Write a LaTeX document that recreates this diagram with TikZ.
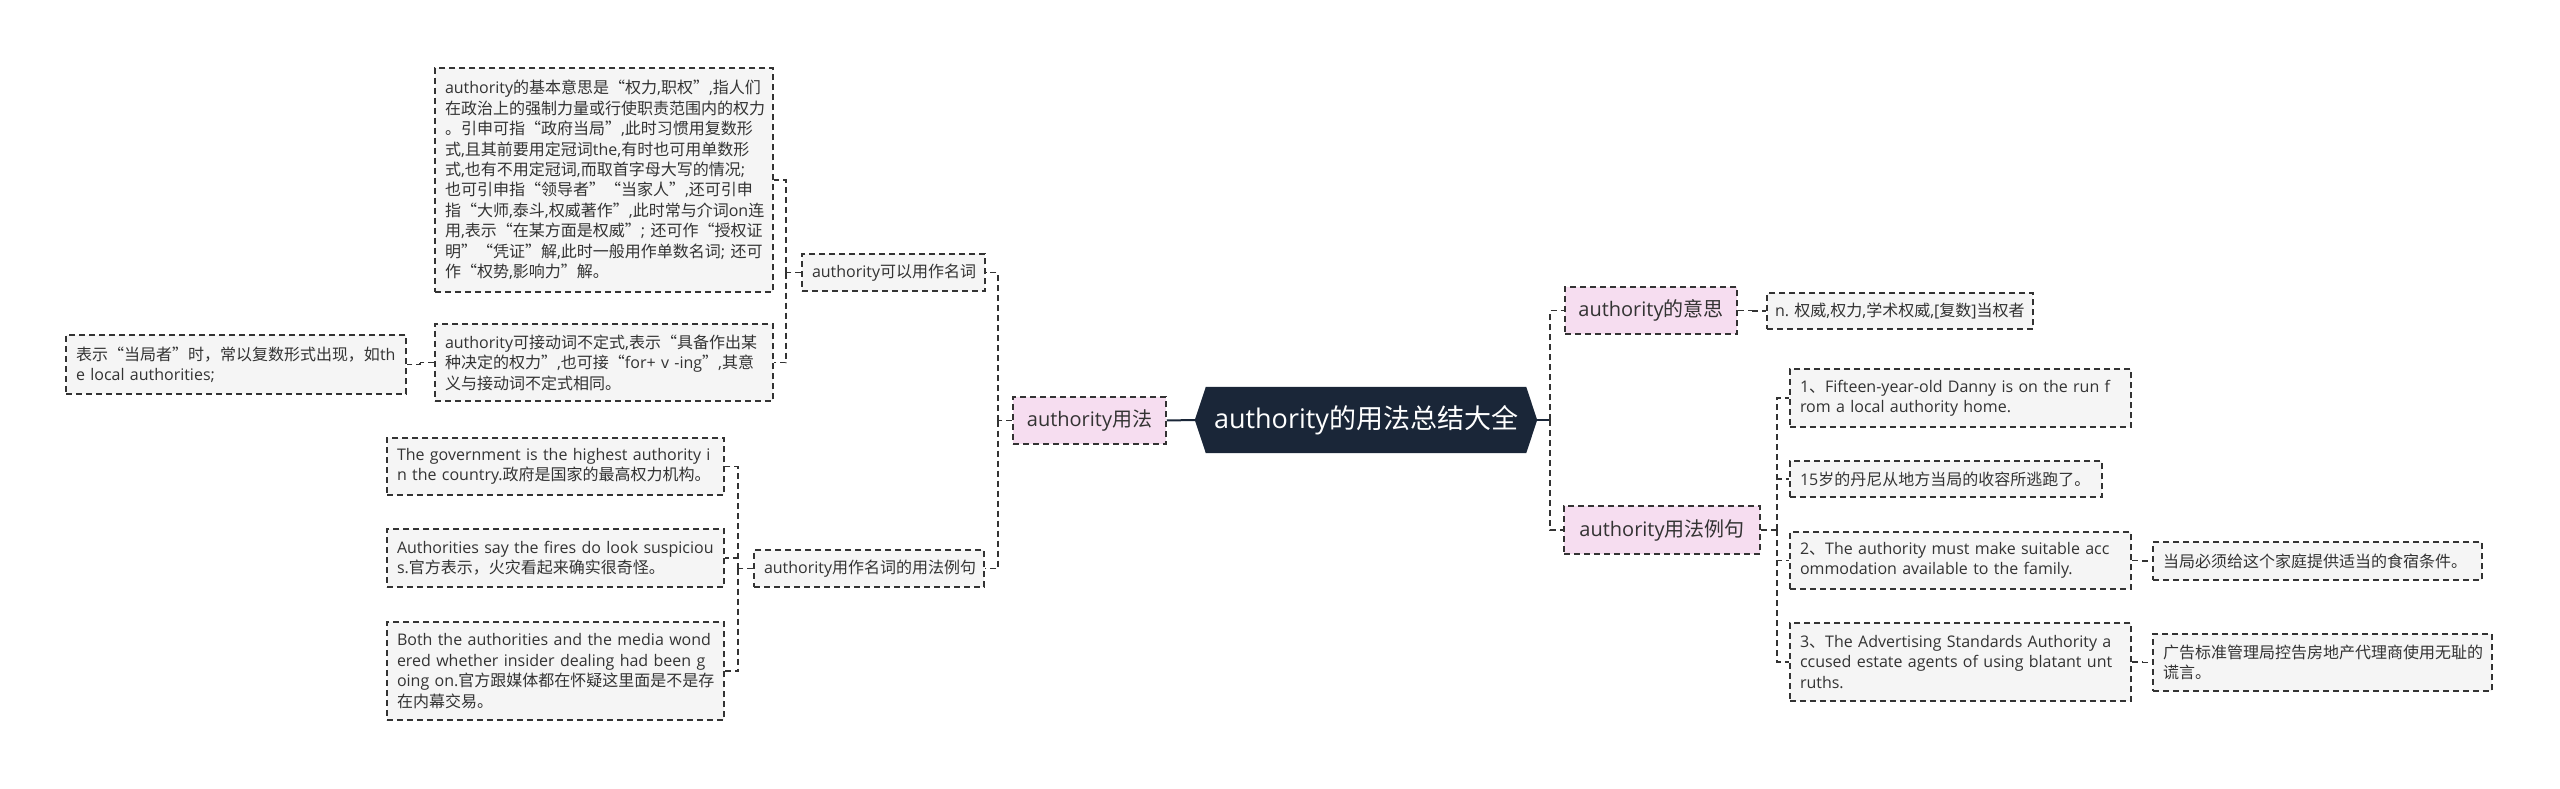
\documentclass[tikz,border=0pt]{standalone}
\usepackage{fontspec}
\setmainfont{Open Sans}
\newfontfamily\cjkf{Noto Sans CJK SC}
\XeTeXinterchartokenstate=1
\newXeTeXintercharclass\cjkcls
\newcount\mycnt
\mycnt="3000 \loop\ifnum\mycnt<"3040 \XeTeXcharclass\mycnt=\cjkcls \advance\mycnt by 1 \repeat
\mycnt="4E00 \loop\ifnum\mycnt<"A000 \XeTeXcharclass\mycnt=\cjkcls \advance\mycnt by 1 \repeat
\mycnt="FF00 \loop\ifnum\mycnt<"FFF0 \XeTeXcharclass\mycnt=\cjkcls \advance\mycnt by 1 \repeat
\XeTeXcharclass"201C=\cjkcls
\XeTeXcharclass"201D=\cjkcls
\XeTeXinterchartoks 0 \cjkcls = {\cjkf}
\XeTeXinterchartoks 4095 \cjkcls = {\cjkf}
\XeTeXinterchartoks \cjkcls 0 = {\rmfamily}
\XeTeXinterchartoks \cjkcls 4095 = {\rmfamily}
\usetikzlibrary{backgrounds}
\definecolor{linec}{HTML}{333333}
\definecolor{textc}{HTML}{333333}
\definecolor{grayf}{HTML}{F5F5F5}
\definecolor{pinkf}{HTML}{F6DDF0}
\definecolor{navy}{HTML}{1A2638}
\begin{document}
\begin{tikzpicture}[x=1pt,y=-1pt,
  conn/.style={draw=linec, line width=1.6pt, dash pattern=on 6pt off 4pt},
  solidconn/.style={draw=navy, line width=2pt},
  gbox/.style={draw=linec, line width=1.5pt, dash pattern=on 6pt off 4pt, fill=grayf, text=textc,
    inner xsep=10pt, inner ysep=0pt, align=left, font=\fontsize{16}{20.4}\selectfont},
  pbox/.style={draw=linec, line width=1.5pt, dash pattern=on 6pt off 4pt, fill=pinkf, text=textc,
    inner xsep=6pt, inner ysep=0pt, align=center, font=\fontsize{20}{24}\selectfont},
]
\useasboundingbox (0,0) rectangle (2560,789);

% central
\node[text=white, inner sep=0pt, minimum width=320pt, minimum height=66pt, font=\fontsize{27}{32}\selectfont] (C) at (1366,420) {authority的用法总结大全};
\begin{scope}[on background layer]
\fill[navy] ([xshift=-11pt]C.west) -- (C.north west) -- (C.north east) -- ([xshift=11pt]C.east) -- (C.south east) -- (C.south west) -- cycle;
\end{scope}

% left side
\node[pbox, minimum width=153pt, minimum height=47pt] (U) at (1089.5,420.5) {authority用法};
\node[gbox, minimum width=183pt, text width=163pt, minimum height=37pt] (P1) at (893.5,272.5) {authority可以用作名词};
\node[gbox, minimum width=230pt, text width=210pt, minimum height=37pt] (P2) at (869,568.5) {authority用作名词的用法例句};
\node[gbox, minimum width=338pt, text width=318pt, minimum height=224pt] (B1) at (604,180) {authority的基本意思是“权力,职权”,指人们\\在政治上的强制力量或行使职责范围内的权力\\。引申可指“政府当局”,此时习惯用复数形\\式,且其前要用定冠词the,有时也可用单数形\\式,也有不用定冠词,而取首字母大写的情况;\\也可引申指“领导者”“当家人”,还可引申\\指“大师,泰斗,权威著作”,此时常与介词on连\\用,表示“在某方面是权威”; 还可作“授权证\\明”“凭证”解,此时一般用作单数名词; 还可\\作“权势,影响力”解。};
\node[gbox, minimum width=338pt, text width=318pt, minimum height=77pt] (B2) at (604,362.5) {authority可接动词不定式,表示“具备作出某\\种决定的权力”,也可接“for+ v -ing”,其意\\义与接动词不定式相同。};
\node[gbox, minimum width=340pt, text width=320pt, minimum height=59pt] (B3) at (236,364.5) {表示“当局者”时，常以复数形式出现，如th\\e local authorities;};
\node[gbox, minimum width=337pt, text width=317pt, minimum height=57pt] (E1) at (555.5,466.5) {The government is the highest authority i\\n the country.政府是国家的最高权力机构。};
\node[gbox, minimum width=337pt, text width=317pt, minimum height=58pt] (E2) at (555.5,558) {Authorities say the fires do look suspiciou\\s.官方表示，火灾看起来确实很奇怪。};
\node[gbox, minimum width=337pt, text width=317pt, minimum height=98pt] (E3) at (555.5,671) {Both the authorities and the media wond\\ered whether insider dealing had been g\\oing on.官方跟媒体都在怀疑这里面是不是存\\在内幕交易。};

% right side
\node[pbox, minimum width=172pt, minimum height=47pt] (M) at (1651,310.5) {authority的意思};
\node[gbox, minimum width=266pt, text width=250pt, inner xsep=8pt, minimum height=36pt] (MD) at (1900,311) {\mbox{n.~权威,权力,学术权威,[复数]当权者}};
\node[pbox, minimum width=196pt, minimum height=48pt] (X) at (1662,530) {authority用法例句};
\node[gbox, minimum width=341pt, text width=321pt, minimum height=58pt] (X1) at (1960.5,398) {1、Fifteen-year-old Danny is on the run f\\rom a local authority home.};
\node[gbox, minimum width=312pt, text width=292pt, minimum height=36pt] (X2) at (1946,479) {15岁的丹尼从地方当局的收容所逃跑了。};
\node[gbox, minimum width=341pt, text width=321pt, minimum height=57pt] (X3) at (1960.5,560.5) {2、The authority must make suitable acc\\ommodation available to the family.};
\node[gbox, minimum width=341pt, text width=321pt, minimum height=78pt] (X4) at (1960.5,662) {3、The Advertising Standards Authority a\\ccused estate agents of using blatant unt\\ruths.};
\node[gbox, minimum width=329pt, text width=309pt, minimum height=38pt] (X3a) at (2317.5,561) {当局必须给这个家庭提供适当的食宿条件。};
\node[gbox, minimum width=339pt, text width=319pt, minimum height=57pt] (X4a) at (2322.5,662.5) {广告标准管理局控告房地产代理商使用无耻的\\谎言。};

% connectors
\draw[solidconn] (U.east) -- ([xshift=-11pt]C.west);
\draw[solidconn] ([xshift=11pt]C.east) -- ++(13,0) coordinate (bR);
\draw[conn] (bR) |- (M.west);
\draw[conn] (bR) |- (X.west);

\draw[conn] (U.west) -- ++(-14,0) coordinate (bU);
\draw[conn] (bU) |- (P1.east);
\draw[conn] (bU) |- (P2.east);

\draw[conn] (P1.west) -- ++(-15,0) coordinate (b1);
\draw[conn] (b1) |- (B1.east);
\draw[conn] (b1) |- (B2.east);

\draw[conn] (B2.west) -- ++(-14,0) coordinate (b2);
\draw[conn] (b2) |- (B3.east);

\draw[conn] (P2.west) -- ++(-15,0) coordinate (b3);
\draw[conn] (b3) |- (E1.east);
\draw[conn] (b3) |- (E2.east);
\draw[conn] (b3) |- (E3.east);

\draw[conn] (M.east) -- ++(15,0) coordinate (bM);
\draw[conn] (bM) |- (MD.west);

\draw[conn] (X.east) -- ++(16,0) coordinate (bX);
\draw[conn] (bX) |- (X1.west);
\draw[conn] (bX) |- (X2.west);
\draw[conn] (bX) |- (X3.west);
\draw[conn] (bX) |- (X4.west);

\draw[conn] (X3.east) -- ++(11,0) coordinate (bX3);
\draw[conn] (bX3) |- (X3a.west);
\draw[conn] (X4.east) -- ++(11,0) coordinate (bX4);
\draw[conn] (bX4) |- (X4a.west);
\end{tikzpicture}
\end{document}
